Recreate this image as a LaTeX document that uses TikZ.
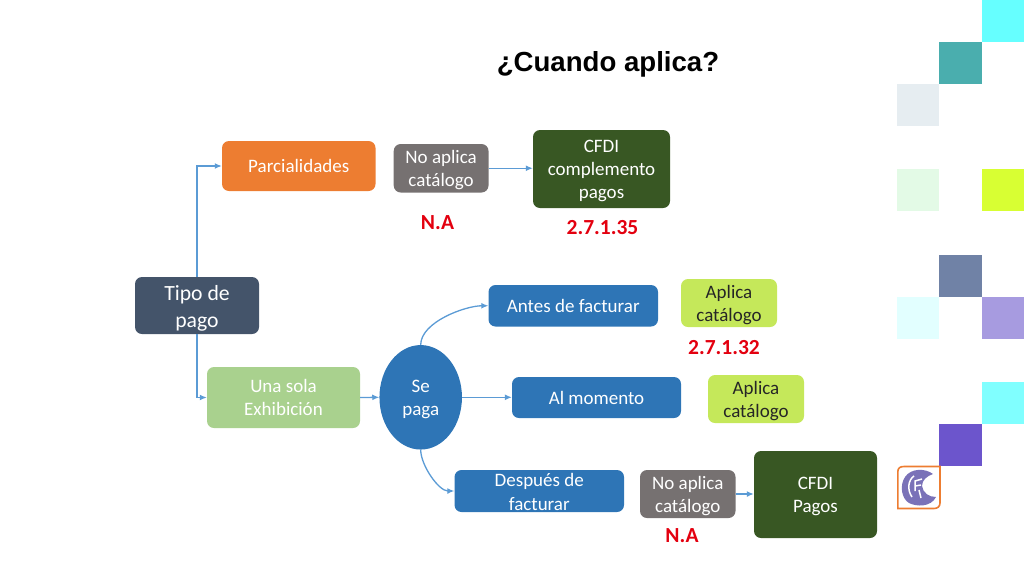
\documentclass[tikz,border=0pt]{standalone}
\usepackage{fontspec}
\setmainfont{Carlito}
\newfontfamily\arialf{Liberation Sans}
\usetikzlibrary{arrows.meta,shapes.geometric}
\definecolor{cOrange}{HTML}{ED7D31}
\definecolor{cGray}{HTML}{767171}
\definecolor{cDkGreen}{HTML}{385723}
\definecolor{cNavy}{HTML}{44546A}
\definecolor{cBlue}{HTML}{2E75B6}
\definecolor{cLtGreen}{HTML}{A9D18E}
\definecolor{cLime}{HTML}{C5E85A}
\definecolor{cArrow}{HTML}{5B9BD5}
\definecolor{cRed}{HTML}{E3000F}
\definecolor{cLogo}{HTML}{7A72B8}
\definecolor{cInk}{HTML}{262626}
\definecolor{q1}{HTML}{66FFFF}\definecolor{q2}{HTML}{4AAEAE}\definecolor{q3}{HTML}{E6EDF1}
\definecolor{q4}{HTML}{E3FAE6}\definecolor{q5}{HTML}{D8FF33}\definecolor{q6}{HTML}{7082A6}
\definecolor{q7}{HTML}{E2FFFF}\definecolor{q8}{HTML}{A79BE0}\definecolor{q9}{HTML}{80FFFF}
\definecolor{q10}{HTML}{6C55CC}
\tikzset{
  x=1pt,y=-1pt,
  boxshape/.style={rounded corners=7pt,inner sep=0pt},
  boxtext/.style={inner sep=0pt,align=center,font=\fontsize{19}{23.2}\selectfont},
  redlabel/.style={text=cRed,font=\fontsize{21.5}{26}\selectfont\bfseries,inner sep=0pt},
  conn/.style={draw=cArrow,line width=1.3pt,-{Latex[length=7pt,width=6pt]}},
}
% [#1 text offset], #2 name, #3 left, #4 top, #5 right, #6 bottom, #7 colour, #8 text colour, #9 text
\newcommand{\bxn}[9][2]{%
  \node[boxshape,fill=#7,minimum width={#5pt-#3pt},minimum height={#6pt-#4pt}] (#2) at ({(#3+#5)/2},{(#4+#6)/2}) {};
  \node[boxtext,text=#8] (#2t) at ({(#3+#5)/2},{(#4+#6)/2+#1}) {#9};}
\begin{document}
\begin{tikzpicture}
\useasboundingbox (0,0) rectangle (1024,576);
% decorative squares
\fill[q1] (981.7,0) rectangle (1024,42);
\fill[q2] (939.3,41.5) rectangle (981.7,83.5);
\fill[q3] (897.3,83.5) rectangle (939.3,126);
\fill[q4] (897.3,169) rectangle (939.3,211);
\fill[q5] (981.7,169) rectangle (1024,211);
\fill[q6] (939.3,254.5) rectangle (981.7,297);
\fill[q7] (897.3,297) rectangle (939.3,339);
\fill[q8] (981.7,297) rectangle (1024,339);
\fill[q9] (981.7,381.5) rectangle (1024,423.5);
\fill[q10] (939.3,423.5) rectangle (981.7,466);
% logo
\fill[cLogo] (933,474) .. controls (925,468) and (911,468) .. (905,477)
  .. controls (899,486) and (902,499) .. (909,503)
  .. controls (917,507) and (931,507) .. (936,497)
  .. controls (929,497) and (923,493) .. (922,486)
  .. controls (922,480) and (927,476) .. (933,474) -- cycle;
\draw[white,line width=1.5pt] (914,476) .. controls (908,480) and (907,490) .. (912,497);
\draw[white,line width=1.5pt] (922,479) -- (915,481) -- (915,491) (915,486) -- (921,485) (919,490) -- (921,498);
\draw[cOrange,line width=1.6pt] (897.8,508.5) -- (897.8,472) .. controls (897.8,468) and (900,466.5) .. (904,466.5) -- (940,466.5) -- (940,503) .. controls (940,506.5) and (937.5,508.5) .. (934,508.5) -- cycle;
% title
\node[inner sep=0pt,font=\arialf\fontsize{27.6}{32}\selectfont\bfseries] (title) at (608,64.5) {¿Cuando aplica?};
% boxes
\bxn[0]{parc}{222}{141}{375.5}{191}{cOrange}{white}{Parcialidades}
\bxn{noa}{393.7}{144}{488.5}{192.5}{cGray}{white}{No aplica\\catálogo}
\bxn{cfdic}{533}{130}{670}{208}{cDkGreen}{white}{CFDI\\complemento\\pagos}
\bxn[0]{una}{207}{367}{360}{428}{cLtGreen}{white}{Una sola\\Exhibición}
\bxn[0]{antes}{488.5}{285}{658}{326.5}{cBlue}{white}{Antes de facturar}
\bxn[0]{alm}{512}{377}{681}{418}{cBlue}{white}{Al momento}
\bxn[1]{desp}{454.5}{470}{624}{512}{cBlue}{white}{Después de\\facturar}
\bxn{apl}{681}{279}{777}{327}{cLime}{cInk}{Aplica\\catálogo}
\bxn{apm}{708}{375}{804}{423}{cLime}{cInk}{Aplica\\catálogo}
\bxn{nob}{640}{470}{735.5}{518}{cGray}{white}{No aplica\\catálogo}
\bxn{cfdip}{754}{451}{877}{538}{cDkGreen}{white}{CFDI\\Pagos}
\node[boxshape,fill=cNavy,minimum width=124pt,minimum height=57pt] (tipo) at (197,305.5) {};
\node[inner sep=0pt,align=center,text=white,font=\fontsize{21.7}{26.5}\selectfont] (tipot) at (197,308.5) {Tipo de\\pago};
\node[ellipse,fill=cBlue,inner sep=0pt,minimum width=82.5pt,minimum height=104.5pt] (se) at (420.7,397.3) {};
\node[boxtext,text=white] (set) at (420.7,399.3) {Se\\paga};
% red labels
\node[redlabel] (na1) at (437.5,222.5) {N.A};
\node[redlabel] (n35) at (602.5,228) {2.7.1.35};
\node[redlabel] (n32) at (724,348) {2.7.1.32};
\node[redlabel] (na2) at (682,536) {N.A};
% connectors
\draw[conn] (tipo.north) |- (parc.west);
\draw[conn] (tipo.south) |- (una.west);
\draw[conn] (una.east) -- (se.west);
\draw[conn] (noa.east) -- (noa.east -| cfdic.west);
\draw[conn] (se.east) -- (se.east -| alm.west);
\draw[conn] (se.north) to[out=90,in=180,looseness=0.75] (antes.west);
\draw[conn] (se.south) to[out=-90,in=180,looseness=0.75] (desp.west);
\draw[conn] (nob.east) -- (nob.east -| cfdip.west);
\end{tikzpicture}
\end{document}
